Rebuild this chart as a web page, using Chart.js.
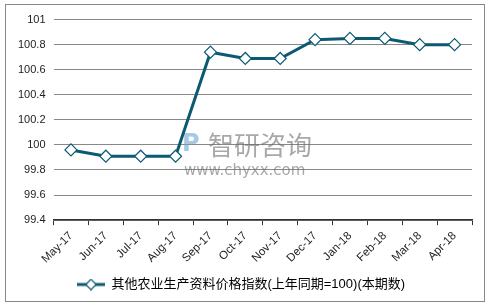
<!DOCTYPE html>
<html>
<head>
<meta charset="utf-8">
<script src="https://cdn.jsdelivr.net/npm/chart.js@4/dist/chart.umd.min.js"></script>
<style>
  html, body { margin: 0; padding: 0; background: #fff; }
  #wrap { position: absolute; left: 5px; top: 4px; width: 480px; height: 298px; border: 1px solid #888; box-sizing: border-box; }
  canvas { display: block; }
</style>
</head>
<body>
<div id="wrap"><canvas id="c"></canvas></div>
<script>
const months = ['May-17', 'Jun-17', 'Jul-17', 'Aug-17', 'Sep-17', 'Oct-17', 'Nov-17', 'Dec-17', 'Jan-18', 'Feb-18', 'Mar-18', 'Apr-18'];
const indexValues = [99.96, 99.91, 99.91, 99.91, 100.74, 100.69, 100.69, 100.84, 100.85, 100.85, 100.80, 100.80];
const seriesName = '其他农业生产资料价格指数(上年同期=100)(本期数)';
const yMin = 99.4;
const yMax = 101;
const yStep = 0.2;

const lineColor = '#0b5a72';
const font = "'Liberation Sans', Arial, 'Noto Sans CJK SC', sans-serif";

// legend marker: short line with a hollow diamond in the middle
function legendMarker() {
  const c = document.createElement('canvas');
  c.width = 28;
  c.height = 12;
  const ctx = c.getContext('2d');
  ctx.strokeStyle = lineColor;
  ctx.lineWidth = 3;
  ctx.beginPath();
  ctx.moveTo(0, 6);
  ctx.lineTo(28, 6);
  ctx.stroke();
  ctx.fillStyle = '#fff';
  ctx.lineWidth = 1.2;
  ctx.beginPath();
  ctx.moveTo(14, 0.8);
  ctx.lineTo(19.2, 6);
  ctx.lineTo(14, 11.2);
  ctx.lineTo(8.8, 6);
  ctx.closePath();
  ctx.fill();
  ctx.stroke();
  return c;
}

const watermark = {
  id: 'watermark',
  beforeDatasetsDraw(chart) {
    const { ctx } = chart;
    ctx.save();
    ctx.textBaseline = 'middle';
    ctx.fillStyle = 'rgba(110,165,210,0.6)';
    ctx.font = "bold 24px 'DejaVu Sans', sans-serif";
    ctx.fillText('P', 176, 140);
    ctx.fillStyle = 'rgba(110,110,110,0.6)';
    ctx.font = "26px 'Noto Sans CJK SC', sans-serif";
    ctx.fillText('智研咨询', 202, 140);
    ctx.font = "15px 'DejaVu Sans', sans-serif";
    ctx.fillText('www.chyxx.com', 178, 166);
    ctx.restore();
  },
};

new Chart(document.getElementById('c'), {
  type: 'line',
  data: {
    labels: months,
    datasets: [{
      label: seriesName,
      data: indexValues,
      borderColor: lineColor,
      backgroundColor: '#ffffff',
      borderWidth: 3,
      pointStyle: 'rectRot',
      pointRadius: 6,
      pointBorderWidth: 1.2,
      pointBorderColor: lineColor,
      pointBackgroundColor: '#ffffff',
      tension: 0,
    }],
  },
  options: {
    responsive: true,
    maintainAspectRatio: false,
    animation: false,
    layout: { padding: { left: 4, right: 12, top: 8, bottom: 0 } },
    plugins: {
      legend: {
        position: 'bottom',
        labels: {
          color: '#222',
          font: { family: font, size: 13 },
          usePointStyle: true,
          pointStyleWidth: 28,
          padding: 8,
          generateLabels: (chart) => [{
            text: seriesName,
            pointStyle: legendMarker(),
            fillStyle: '#fff',
            strokeStyle: lineColor,
            lineWidth: 0,
            datasetIndex: 0,
          }],
        },
      },
      tooltip: { enabled: false },
    },
    scales: {
      x: {
        offset: true,
        grid: { display: true, drawOnChartArea: false, drawTicks: true, tickLength: 5, offset: true, color: '#333' },
        border: { color: '#333', width: 1.5 },
        ticks: { color: '#222', font: { family: font, size: 11.5 }, maxRotation: 45, minRotation: 45, padding: 4 },
      },
      y: {
        min: yMin,
        max: yMax,
        grid: { color: '#888', drawTicks: false },
        border: { display: false },
        ticks: {
          stepSize: yStep,
          color: '#222',
          padding: 8,
          font: { family: font, size: 11 },
          callback: (v) => String(Math.round(v * 10) / 10),
        },
      },
    },
  },
  plugins: [watermark],
});
</script>
</body>
</html>
